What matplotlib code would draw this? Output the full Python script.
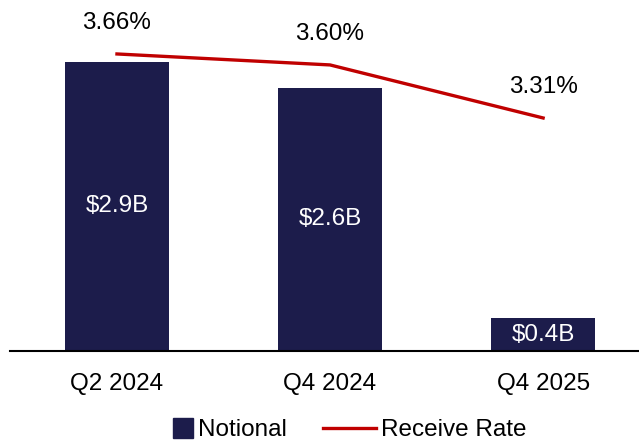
import matplotlib.pyplot as plt
from matplotlib.lines import Line2D
from matplotlib.patches import Patch, Rectangle
from matplotlib.legend_handler import HandlerPatch

# chart data
periods = ['Q2 2024', 'Q4 2024', 'Q4 2025']
notional = [2.9, 2.64, 0.33]
notional_labels = ['$2.9B', '$2.6B', '$0.4B']
receive_rate = [3.66, 3.60, 3.31]
rate_labels = ['3.66%', '3.60%', '3.31%']

navy = '#1c1c4b'
red = '#c00000'
fs = 17.5

plt.rcParams['font.family'] = ['Liberation Sans', 'DejaVu Sans']


# square legend key drawn at the right end of the handle box
def square_key(legend, orig_handle, xdescent, ydescent, width, height, fontsize):
    s = height * 1.15
    return Rectangle((width - xdescent - s, -ydescent - (s - height) / 2), s, s)


fig = plt.figure(figsize=(6.39, 4.42), dpi=100)
ax = fig.add_axes([10 / 639, 91 / 442, 629 / 639, 321 / 442])

x = list(range(len(periods)))
ax.bar(x, notional, width=0.49, color=navy, zorder=2)
for xi, v, lab in zip(x, notional, notional_labels):
    ax.text(xi, v / 2, lab, color='white', ha='center', va='center', fontsize=fs)

ax.set_xlim(-0.502, 2.45)
ax.set_ylim(0, 3.22)

# secondary axis for the rate line
ax2 = ax.twinx()
ax2.plot(x, receive_rate, color=red, linewidth=2.4, zorder=3)
ax2.set_ylim(2.036, 3.791)
for xi, v, lab in zip(x, receive_rate, rate_labels):
    ax2.annotate(lab, (xi, v), xytext=(0, 22), textcoords='offset points',
                 ha='center', va='center', fontsize=fs)

for a in (ax, ax2):
    for s in ['top', 'right', 'left']:
        a.spines[s].set_visible(False)
    a.set_yticks([])
ax.spines['bottom'].set_linewidth(1.5)
ax2.spines['bottom'].set_visible(False)

ax.set_xticks(x)
ax.set_xticklabels(periods, fontsize=fs)
ax.tick_params(axis='x', length=0, pad=16)

handles = [Patch(color=navy, label='Notional'),
           Line2D([0], [0], color=red, linewidth=2.4, label='Receive Rate')]
fig.legend(handles=handles, loc='lower center', bbox_to_anchor=(0.521, -0.048),
           ncol=2, frameon=False, fontsize=fs, handlelength=2.2,
           handletextpad=0.2, columnspacing=1.48,
           handler_map={Patch: HandlerPatch(patch_func=square_key)})

fig.savefig('out.png', dpi=100)
